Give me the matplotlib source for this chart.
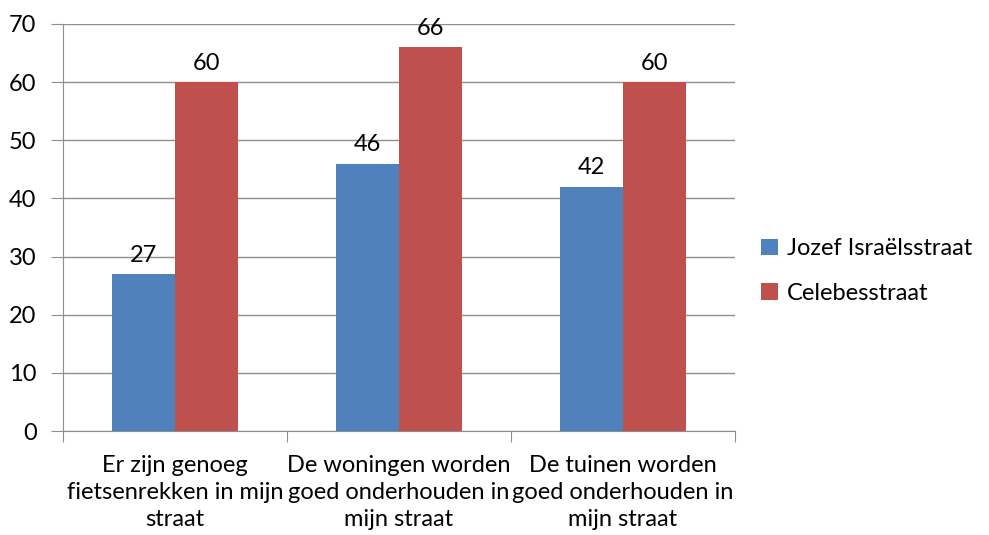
import numpy as np
import matplotlib.pyplot as plt

plt.rcParams['font.family'] = ['Lato', 'DejaVu Sans']

categorieen = ['Er zijn genoeg\nfietsenrekken in mijn\nstraat',
               'De woningen worden\ngoed onderhouden in\nmijn straat',
               'De tuinen worden\ngoed onderhouden in\nmijn straat']
jozef = [27, 46, 42]
celebes = [60, 66, 60]
reeksen = ['Jozef Israëlsstraat', 'Celebesstraat']
kleuren = ['#4F81BD', '#C0504D']

fs = 17

fig = plt.figure(figsize=(9.89, 5.35), dpi=100)
ax = fig.add_axes([63/989, 1 - 431/535, (735 - 63)/989, (431 - 24)/535])

x = np.arange(len(categorieen))
w = 0.28
b1 = ax.bar(x - w/2, jozef, w, color=kleuren[0], label=reeksen[0], zorder=3)
b2 = ax.bar(x + w/2, celebes, w, color=kleuren[1], label=reeksen[1], zorder=3)

for bars in (b1, b2):
    for r in bars:
        ax.annotate(f'{r.get_height():.0f}', (r.get_x() + r.get_width()/2, r.get_height()),
                    xytext=(0, 6), textcoords='offset points', ha='center', va='bottom',
                    fontsize=fs, color='black')

ax.set_xlim(-0.5, len(categorieen) - 0.5)
ax.set_ylim(0, 70)
ax.set_yticks(range(0, 71, 10))
ax.yaxis.grid(True, color='#8E8E8E', linewidth=1, zorder=0)
ax.tick_params(axis='y', length=9, color='#8E8E8E', labelsize=fs, pad=10)

# categorielabels tussen de tickmarks
ax.set_xticks(np.arange(-0.5, len(categorieen)), labels=[])
ax.set_xticks(x, labels=categorieen, minor=True)
ax.tick_params(axis='x', which='major', length=8, color='#8E8E8E')
ax.tick_params(axis='x', which='minor', length=0, labelsize=fs, pad=17)
for lbl in ax.get_xticklabels(minor=True):
    lbl.set_linespacing(1.35)

for s in ['top', 'right']:
    ax.spines[s].set_visible(False)
for s in ['left', 'bottom']:
    ax.spines[s].set_color('#8E8E8E')

fig.legend(handles=[b1, b2], labels=reeksen, loc='center left',
           bbox_to_anchor=(740/989, 1 - 271/535), frameon=False, fontsize=fs,
           handlelength=0.7, handleheight=0.7, handletextpad=0.4, labelspacing=1.0)

fig.savefig('out.png', dpi=100)
